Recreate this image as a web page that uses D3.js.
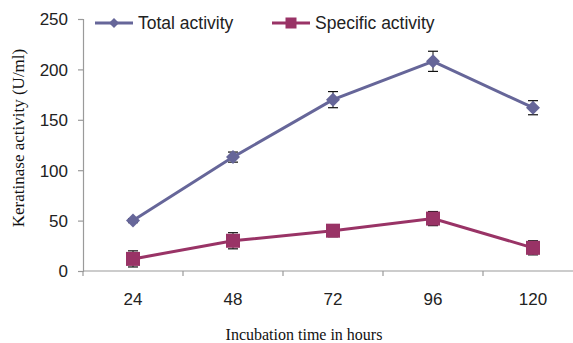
<!DOCTYPE html>
<html>
<head>
<meta charset="utf-8">
<script src="https://cdn.jsdelivr.net/npm/d3@7/dist/d3.min.js"></script>
<style>
  html, body { margin: 0; padding: 0; background: #fff; }
  svg { display: block; }
</style>
</head>
<body>
<svg id="chart" width="573" height="343"></svg>
<script>
// Incubation times (hours)
const hours = ["24", "48", "72", "96", "120"];
// Keratinase activity (U/ml) with error bars
const totalActivity = [50, 113, 170, 208, 162];
const totalError = [2, 5, 8, 10, 7];
const specificActivity = [12, 30, 40, 52, 23];
const specificError = [8, 8, 6, 7, 7];
const yTicks = [0, 50, 100, 150, 200, 250];

const seriesList = [
  { name: "Total activity", values: totalActivity, errors: totalError, color: "#666699", shape: "diamond" },
  { name: "Specific activity", values: specificActivity, errors: specificError, color: "#993366", shape: "square" }
];

const svg = d3.select("#chart");
const plotLeft = 83, plotRight = 583, plotTop = 19, plotBottom = 271;

const x = d3.scaleBand().domain(hours).range([plotLeft, plotRight]);
const y = d3.scaleLinear().domain([0, 250]).range([plotBottom, plotTop]);

const tickFont = "'Liberation Sans', Arial, sans-serif";
const axisColor = "#9a9a9a";

// Y axis
const yAxis = svg.append("g").attr("transform", `translate(${plotLeft},0)`)
  .call(d3.axisLeft(y).tickValues(yTicks).tickSize(5).tickPadding(10));
yAxis.select(".domain").attr("stroke", axisColor).attr("stroke-width", 1.2);
yAxis.selectAll(".tick line").attr("stroke", axisColor).attr("stroke-width", 1.2);
yAxis.selectAll(".tick text").attr("font-family", tickFont).attr("font-size", 17)
  .attr("fill", "#222").attr("dy", "0.35em");

// X axis: ticks at band boundaries, labels at band centres
const xAxis = svg.append("g").attr("transform", `translate(0,${plotBottom})`);
xAxis.append("line").attr("x1", plotLeft).attr("x2", plotRight).attr("y1", 0).attr("y2", 0)
  .attr("stroke", axisColor).attr("stroke-width", 1.2);
xAxis.selectAll(".xtick").data(hours).enter().append("line")
  .attr("x1", d => x(d)).attr("x2", d => x(d)).attr("y1", 0).attr("y2", 5)
  .attr("stroke", axisColor).attr("stroke-width", 1.2);
xAxis.selectAll(".xlabel").data(hours).enter().append("text")
  .attr("x", d => x(d) + x.bandwidth() / 2).attr("y", 34)
  .attr("text-anchor", "middle").attr("font-family", tickFont).attr("font-size", 17)
  .attr("fill", "#222").text(d => d);

// Axis titles
svg.append("text")
  .attr("transform", `translate(24,138) rotate(-90)`)
  .attr("text-anchor", "middle").attr("font-family", "'Liberation Serif', serif")
  .attr("font-size", 17).attr("fill", "#111").text("Keratinase activity (U/ml)");
svg.append("text")
  .attr("x", 304).attr("y", 340)
  .attr("text-anchor", "middle").attr("font-family", "'Liberation Serif', serif")
  .attr("font-size", 16).attr("fill", "#111").text("Incubation time in hours");

const cx = d => x(d) + x.bandwidth() / 2;

function marker(sel, shape, size, color) {
  if (shape === "diamond") {
    const s = size / 2;
    sel.append("path").attr("d", `M0,${-s}L${s},0L0,${s}L${-s},0Z`).attr("fill", color);
  } else {
    sel.append("rect").attr("x", -size / 2).attr("y", -size / 2)
      .attr("width", size).attr("height", size).attr("fill", color);
  }
}

seriesList.forEach(s => {
  const pts = hours.map((h, i) => ({ h, v: s.values[i], e: s.errors[i] }));
  const g = svg.append("g");

  // error bars
  const eb = g.selectAll(".err").data(pts).enter().append("g");
  eb.append("line").attr("x1", d => cx(d.h)).attr("x2", d => cx(d.h))
    .attr("y1", d => y(d.v - d.e)).attr("y2", d => y(d.v + d.e))
    .attr("stroke", "#111").attr("stroke-width", 1);
  [-1, 1].forEach(sign => {
    eb.append("line").attr("x1", d => cx(d.h) - 5).attr("x2", d => cx(d.h) + 5)
      .attr("y1", d => y(d.v + sign * d.e)).attr("y2", d => y(d.v + sign * d.e))
      .attr("stroke", "#111").attr("stroke-width", 1.2);
  });

  // line
  g.append("path").datum(pts)
    .attr("d", d3.line().x(d => cx(d.h)).y(d => y(d.v)))
    .attr("fill", "none").attr("stroke", s.color).attr("stroke-width", 3);

  // markers
  g.selectAll(".mk").data(pts).enter().append("g")
    .attr("transform", d => `translate(${cx(d.h)},${y(d.v)})`)
    .each(function () { marker(d3.select(this), s.shape, 14, s.color); });
});

// Legend
const legendPos = [95, 272];
seriesList.forEach((s, i) => {
  const lg = svg.append("g").attr("transform", `translate(${legendPos[i]},23)`);
  lg.append("line").attr("x1", 0).attr("x2", 38).attr("y1", 0).attr("y2", 0)
    .attr("stroke", s.color).attr("stroke-width", 3);
  const m = lg.append("g").attr("transform", "translate(19,0)");
  marker(m, s.shape, s.shape === "diamond" ? 10 : 11, s.color);
  lg.append("text").attr("x", 43).attr("y", 0).attr("dy", "0.35em")
    .attr("font-family", tickFont).attr("font-size", 17.5).attr("fill", "#222").text(s.name);
});
</script>
</body>
</html>
